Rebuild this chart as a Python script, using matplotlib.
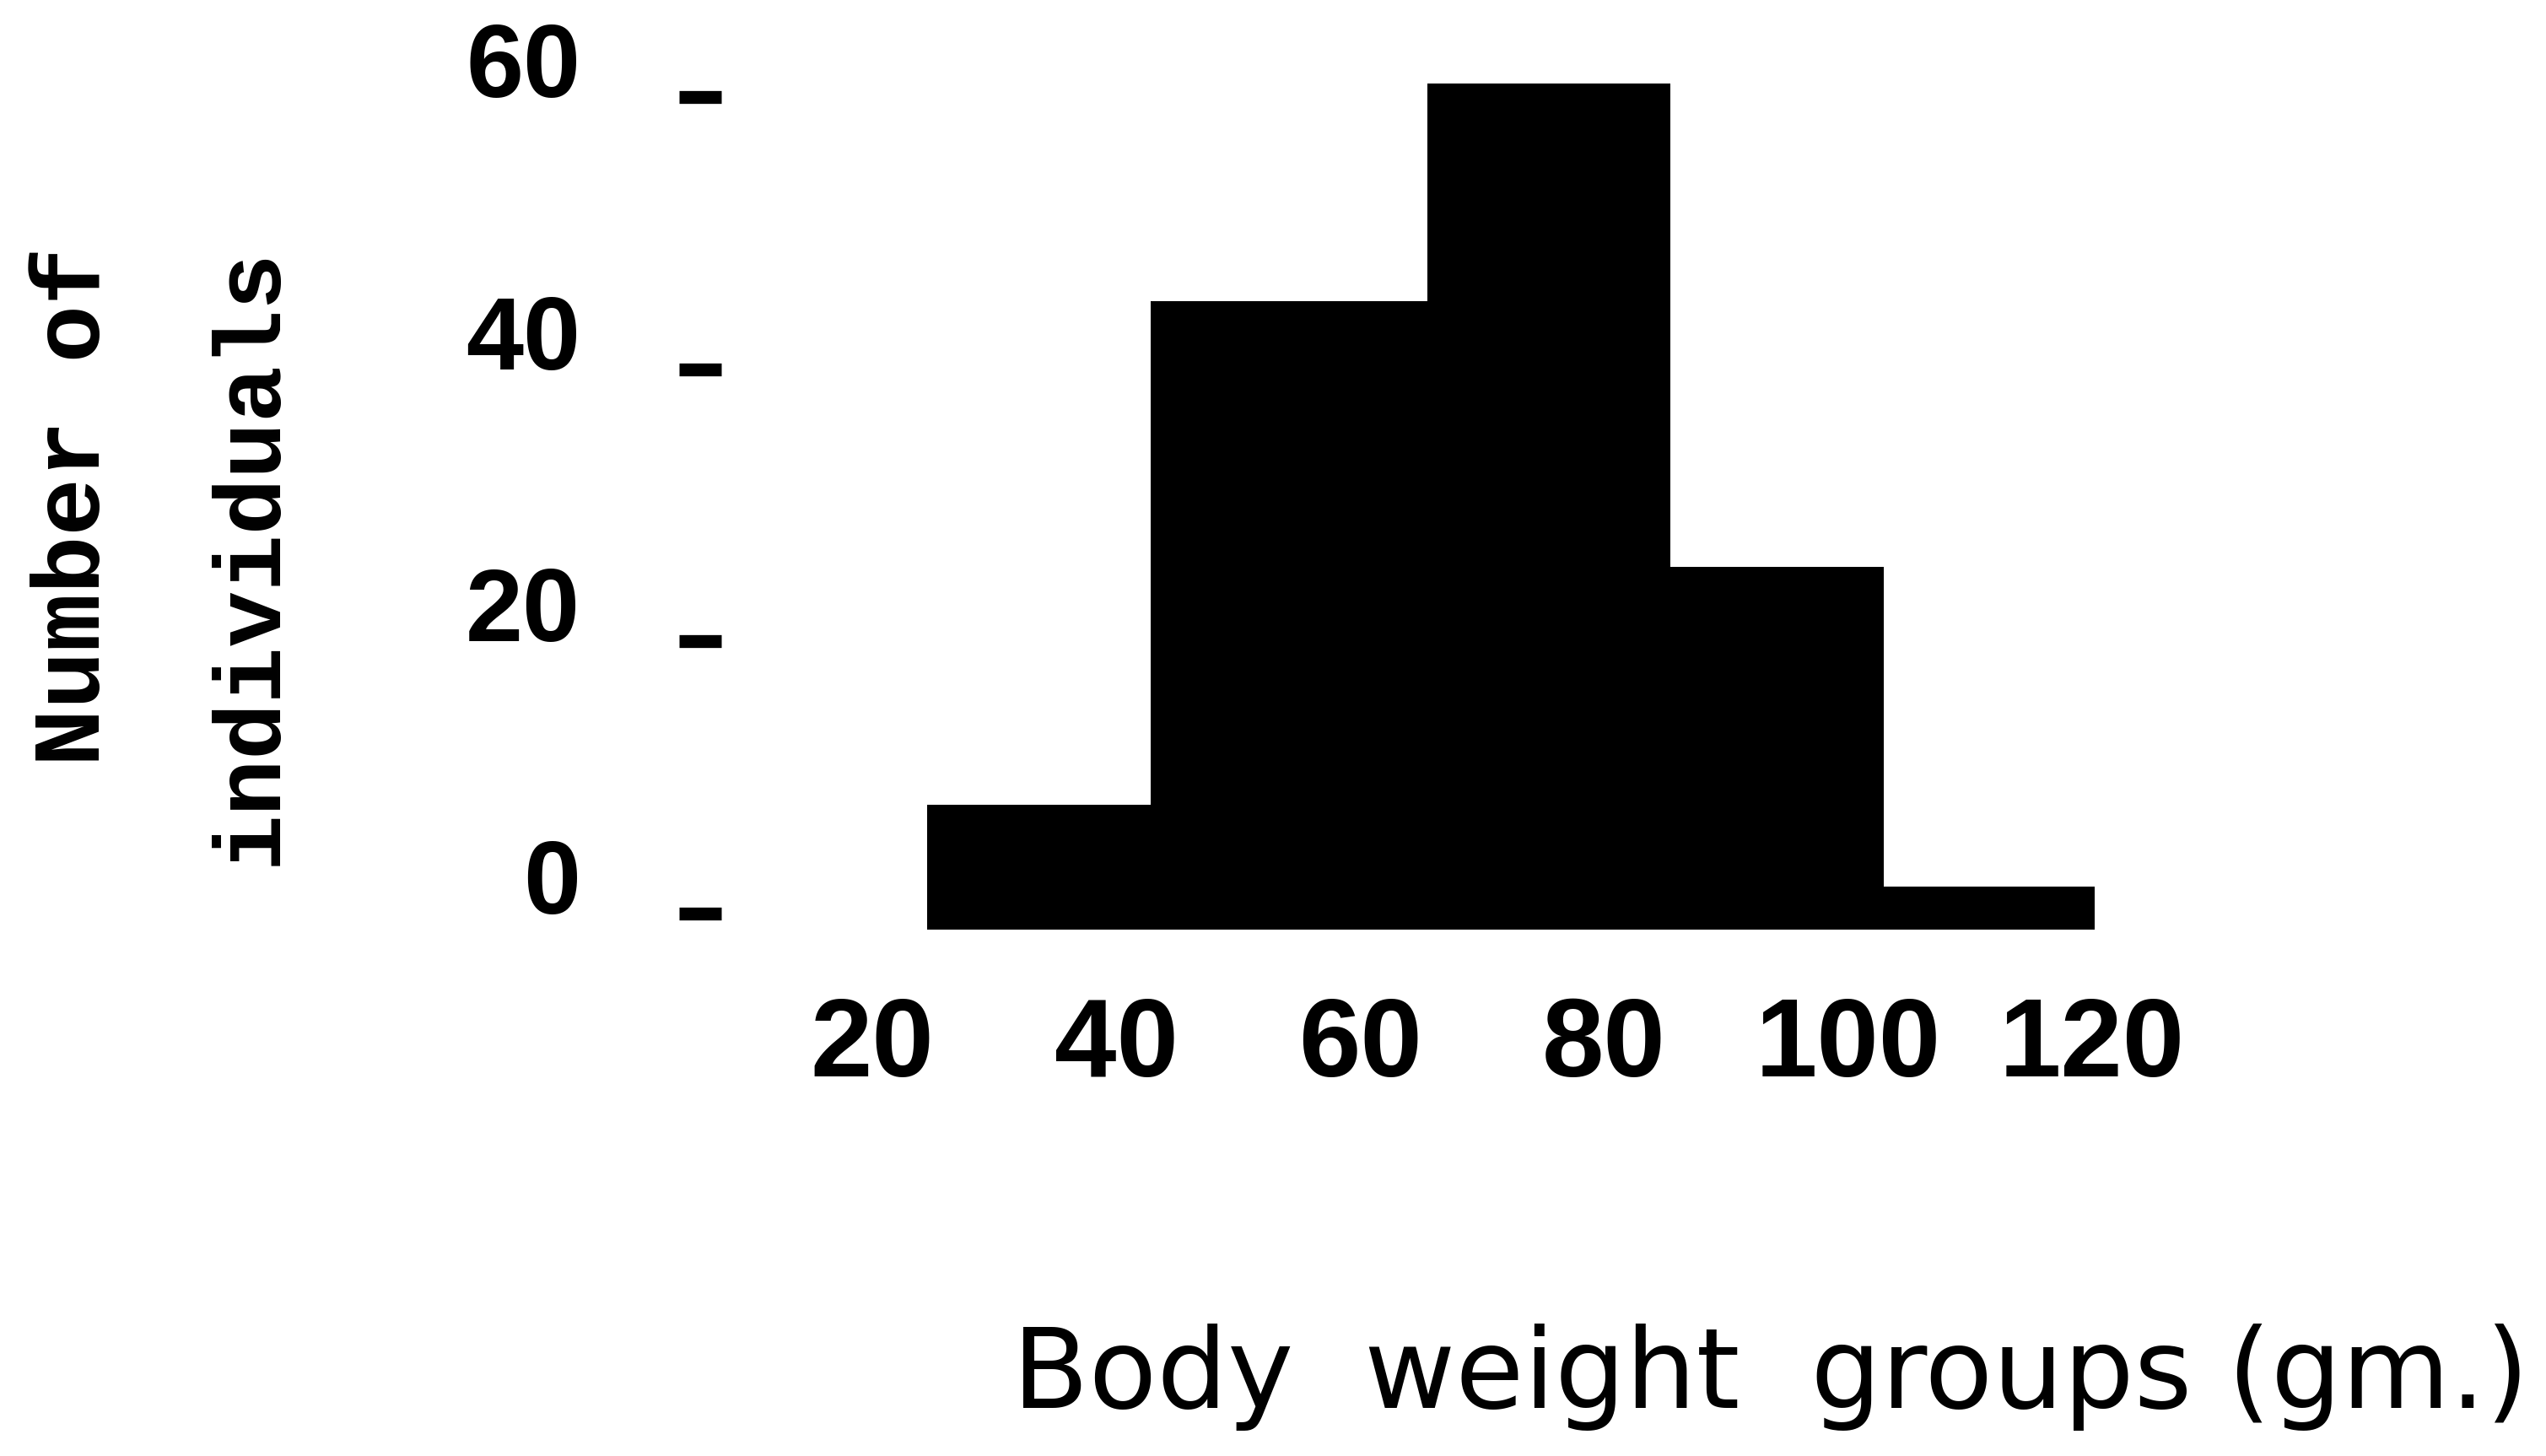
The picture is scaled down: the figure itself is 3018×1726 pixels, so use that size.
import numpy as np
import matplotlib
matplotlib.use('Agg')
import matplotlib.pyplot as plt

# body weight groups (gm.) - bin edges as drawn, and number of individuals per group
bin_edges = [24.5, 42.8, 65.5, 85.4, 102.9, 120.2]
counts = [8, 45, 61, 25.5, 2]
x_ticks = [20, 40, 60, 80, 100, 120]
y_ticks = [0, 20, 40, 60]

W, H = 3018, 1726
fig = plt.figure(figsize=(W / 100, H / 100), dpi=100)
ax = fig.add_axes([1034 / W, 1 - 1083 / H, (2480 - 1034) / W, (1083 - 115) / H])
ax.set_xlim(20, 120)
ax.set_ylim(0, 60)

num_font = ['Liberation Sans', 'DejaVu Sans']

# solid black histogram, bars sit a little under the zero mark
base = -1.2
ax.bar(bin_edges[:-1], np.array(counts) - base, width=np.diff(bin_edges), bottom=base,
       align='edge', color='black', linewidth=0, clip_on=False)

for s in ax.spines.values():
    s.set_visible(False)
ax.spines['left'].set_position(('outward', 147))

ax.set_xticks(x_ticks)
ax.set_yticks(y_ticks)
ax.tick_params(axis='x', length=0, pad=70)
ax.tick_params(axis='y', direction='inout', length=36, width=11, pad=84)
for lab in ax.get_xticklabels():
    lab.set_family(num_font)
    lab.set_fontweight('bold')
    lab.set_fontsize(95)
# y numbers sit above their tick dashes
for lab in ax.get_yticklabels():
    lab.set_family(num_font)
    lab.set_fontweight('bold')
    lab.set_fontsize(88)
    lab.set_va('baseline')

# y label in two typewritten lines
mono = ['Liberation Mono', 'DejaVu Sans Mono']
fig.text(89 / W, 1 - 293 / H, 'Number of', rotation=90, ha='center', va='top',
         family=mono, fontweight='bold', fontsize=82)
fig.text(298 / W, 1 - 293 / H, 'individuals', rotation=90, ha='center', va='top',
         family=mono, fontweight='bold', fontsize=80)

fig.text(1200 / W, 1 - 1669 / H, 'Body  weight  groups (gm.)', ha='left', va='baseline',
         family='DejaVu Sans', fontsize=95)

fig.savefig('out.png', dpi=100, facecolor='white')
